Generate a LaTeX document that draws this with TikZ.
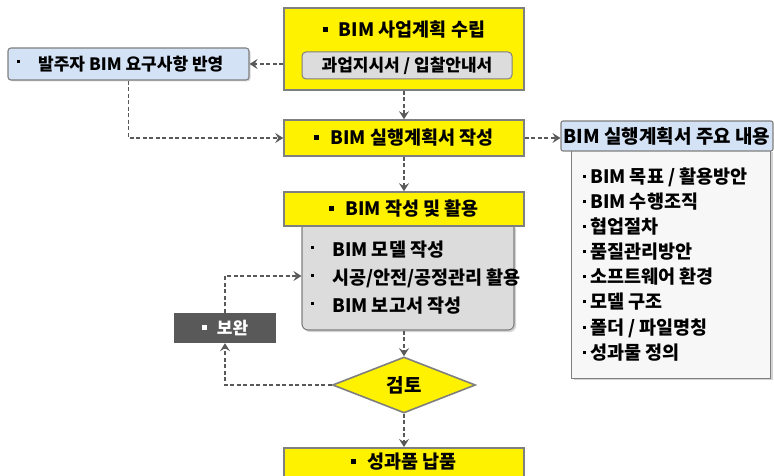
\documentclass[tikz,border=0pt]{standalone}
\usepackage{fontspec}
\setmainfont{Noto Sans CJK KR}
\usetikzlibrary{arrows.meta,shapes.geometric,shadows,calc}
\definecolor{edge}{HTML}{7F7F7F}
\definecolor{linkc}{HTML}{595959}
\definecolor{paleblue}{HTML}{D3E2F5}
\definecolor{panel}{HTML}{DCDCDC}
\definecolor{darkbox}{HTML}{595959}
\newcommand{\sqb}{\raisebox{0.27em}{\rule{5pt}{5pt}}}
\newcommand{\dotb}{\raisebox{0.3em}{\rule{3pt}{3pt}}}
\newcommand{\fs}[1]{\fontsize{#1}{#1}\selectfont}
\tikzset{
  every node/.style={font=\bfseries\fs{18}, inner sep=0pt},
  stage/.style={draw=edge, line width=1.6pt, fill=yellow, minimum width=240pt, font=\bfseries\fs{18.5}},
  bluebox/.style={draw=edge, line width=1.1pt, fill=paleblue, rounded corners=3pt},
  greybox/.style={draw=edge, line width=1.1pt, fill=panel, rounded corners=6pt,
    drop shadow={shadow xshift=2pt, shadow yshift=-2pt, opacity=0.35}},
  listbox/.style={draw=edge, line width=1pt, fill=white!97!black,
    drop shadow={shadow xshift=2pt, shadow yshift=-2pt, opacity=0.35}},
  link/.style={draw=linkc, line width=1.2pt, dash pattern=on 4pt off 2.5pt,
    -{Stealth[length=8pt, width=10pt, inset=3pt]}},
  lineitem/.style={anchor=west, font=\bfseries\fs{18.5}},
  workitem/.style={anchor=west, font=\bfseries\fs{18.5}},
}
\begin{document}
\begin{tikzpicture}[x=1pt, y=-1pt]
\useasboundingbox (0,0) rectangle (774,476);
\clip (0,0) rectangle (774,476);

% project planning stage
\node[stage, minimum height=82pt] (plan) at (404,49) {};
\node[font=\bfseries\fs{18.5}] at (404,30) {\sqb\hspace{11pt}BIM 사업계획 수립};
\node[draw=edge, line width=1pt, fill=panel, rounded corners=4pt,
      minimum width=210pt, minimum height=27pt, font=\bfseries\fs{17}] (docs) at (407,65.5) {과업지시서 / 입찰안내서};

% client requirements
\node[bluebox, minimum width=241pt, minimum height=32pt,
      drop shadow={shadow xshift=1.5pt, shadow yshift=-1.5pt, opacity=0.3}] (req) at (128.5,64) {};
\node at (19,64) {\dotb};
\node[anchor=west, font=\bfseries\fs{17}] at (38,64) {발주자 BIM 요구사항 반영};

% execution plan
\node[stage, minimum height=36pt] (exec) at (404,138) {\sqb\hspace{11pt}BIM 실행계획서 작성};

% execution plan contents
\node[listbox, minimum width=199pt, minimum height=228pt] (list) at (671,264) {};
\node[bluebox, rounded corners=2pt, minimum width=212pt, minimum height=30pt, font=\bfseries\fs{19}] (head) at (667,136)
  {BIM 실행계획서 주요 내용};
\node[lineitem] (item1) at (583,177) {\dotb\hspace{4pt}BIM 목표 / 활용방안};
\node[lineitem] (item2) at (583,202) {\dotb\hspace{4pt}BIM 수행조직};
\node[lineitem] (item3) at (583,227) {\dotb\hspace{4pt}협업절차};
\node[lineitem] (item4) at (583,252) {\dotb\hspace{4pt}품질관리방안};
\node[lineitem] (item5) at (583,277) {\dotb\hspace{4pt}소프트웨어 환경};
\node[lineitem] (item6) at (583,302) {\dotb\hspace{4pt}모델 구조};
\node[lineitem] (item7) at (583,328) {\dotb\hspace{4pt}폴더 / 파일명칭};
\node[lineitem] (item8) at (583,353) {\dotb\hspace{4pt}성과물 정의};

% BIM modelling and use
\node[greybox, minimum width=212pt, minimum height=108pt] (work) at (408,276) {};
\node[stage, minimum height=34pt] (use) at (404,209) {\sqb\hspace{11pt}BIM 작성 및 활용};
\node at (312,250) {\dotb};
\node at (312,278) {\dotb};
\node at (312,306) {\dotb};
\node[workitem] (w1) at (332,250) {BIM 모델 작성};
\node[workitem] (w2) at (332,278) {시공/안전/공정관리 활용};
\node[workitem] (w3) at (332,306) {BIM 보고서 작성};

% review loop
\node[diamond, draw=edge, line width=1.6pt, fill=yellow, aspect=2.6,
      minimum width=143pt, minimum height=56pt, font=\bfseries\fs{19}] (review) at (404,385) {검토};
\node[fill=darkbox, minimum width=102pt, minimum height=30pt, text=white, font=\bfseries\fs{17}] (fix) at (225,328)
  {\textcolor{white}{\sqb}\hspace{10pt}보완};

% deliverables
\node[stage, minimum height=50pt, anchor=north] (deliver) at (404,447) {};
\node[font=\bfseries\fs{18.5}] at (404,462) {\sqb\hspace{11pt}성과품 납품};

% connectors
\draw[link] (plan.west |- req.east) -- (req.east);
\draw[link] (req.south) |- (exec.west);
\draw[link] (plan.south) -- (exec.north);
\draw[link] (exec.east) -- (exec.east -| head.west);
\draw[link] (exec.south) -- (use.north);
\draw[link] (work.south -| review.north) -- (review.north);
\draw[link] (review.west) -| (fix.south);
\draw[link] (fix.north) |- (work.west);
\draw[link] (review.south) -- (deliver.north);
\end{tikzpicture}
\end{document}
